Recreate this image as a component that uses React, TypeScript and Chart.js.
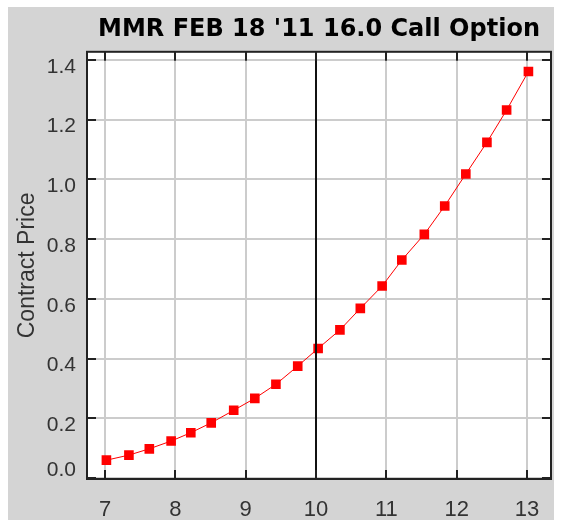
import React, { useEffect, useRef } from "react";
import { Chart, registerables } from "chart.js";

Chart.register(...registerables);

const chartTitle = "MMR FEB 18 '11 16.0 Call Option";
const yAxisTitle = "Contract Price";
const strikePrices = [7.02, 7.34, 7.63, 7.94, 8.22, 8.51, 8.83, 9.13, 9.43, 9.74, 10.03, 10.34, 10.63, 10.94, 11.22, 11.54, 11.83, 12.13, 12.43, 12.71, 13.02];
const contractPrices = [0.060, 0.077, 0.098, 0.124, 0.152, 0.185, 0.227, 0.267, 0.314, 0.375, 0.434, 0.496, 0.568, 0.643, 0.730, 0.816, 0.911, 1.018, 1.124, 1.232, 1.361];
const xTickValues = [7, 8, 9, 10, 11, 12, 13];
const yTickValues = [0, 0.2, 0.4, 0.6, 0.8, 1.0, 1.2, 1.4];
const currentPrice = 10;
const xRange = [6.744, 13.341];
const yRange = [-0.003, 1.427];

const tickFont = "21px 'Liberation Sans'";
const tickColor = "#333333";

const framePlugin = {
  id: "frame",
  beforeDraw(chart: any) {
    const { ctx, chartArea: a } = chart;
    ctx.save();
    ctx.fillStyle = "#ffffff";
    ctx.fillRect(a.left, a.top, a.right - a.left, a.bottom - a.top);
    ctx.restore();
  },
  afterDatasetsDraw(chart: any) {
    const { ctx, chartArea: a, scales } = chart;
    const xs = scales.x;
    const ys = scales.y;
    ctx.save();
    // current price marker line
    const cx = Math.round(xs.getPixelForValue(currentPrice));
    ctx.strokeStyle = "#111111";
    ctx.lineWidth = 2;
    ctx.beginPath();
    ctx.moveTo(cx, a.top);
    ctx.lineTo(cx, a.bottom);
    ctx.stroke();
    // inward tick marks
    const tl = 9;
    ctx.strokeStyle = "#222222";
    ctx.lineWidth = 2;
    ctx.beginPath();
    xTickValues.forEach((v) => {
      const px = Math.round(xs.getPixelForValue(v));
      ctx.moveTo(px, a.bottom);
      ctx.lineTo(px, a.bottom - tl);
      ctx.moveTo(px, a.top);
      ctx.lineTo(px, a.top + tl);
    });
    yTickValues.forEach((v) => {
      const py = Math.round(ys.getPixelForValue(v));
      ctx.moveTo(a.left, py);
      ctx.lineTo(a.left + tl, py);
      ctx.moveTo(a.right, py);
      ctx.lineTo(a.right - tl, py);
    });
    ctx.stroke();
    // frame
    ctx.strokeRect(a.left, a.top, a.right - a.left, a.bottom - a.top);
    // lowest y label sits just above the axis line
    ctx.font = tickFont;
    ctx.fillStyle = tickColor;
    ctx.textAlign = "right";
    ctx.textBaseline = "middle";
    ctx.fillText(yTickValues[0].toFixed(1), ys.right - 11, ys.getPixelForValue(yTickValues[0]) - 8);
    ctx.restore();
  },
};

export default function App() {
  const canvasRef = useRef<HTMLCanvasElement | null>(null);

  useEffect(() => {
    if (!canvasRef.current) return;
    const chart = new Chart(canvasRef.current, {
      type: "line",
      data: {
        datasets: [
          {
            data: strikePrices.map((x, i) => ({ x, y: contractPrices[i] })),
            borderColor: "#ff0000",
            backgroundColor: "#ff0000",
            borderWidth: 1,
            pointStyle: "rect",
            pointRadius: 6.8,
            pointBorderWidth: 0,
            pointBackgroundColor: "#ff0000",
            tension: 0,
            fill: false,
          },
        ],
      },
      options: {
        animation: false,
        responsive: true,
        maintainAspectRatio: false,
        layout: { autoPadding: false, padding: { left: 0, right: 3, top: 0, bottom: 0 } },
        plugins: {
          legend: { display: false },
          tooltip: { enabled: false },
          title: {
            display: true,
            text: chartTitle,
            fullSize: false,
            color: "#000000",
            font: { family: "'DejaVu Sans'", size: 24, weight: "bold" },
            padding: { top: 8, bottom: 8 },
          },
        },
        scales: {
          x: {
            type: "linear",
            min: xRange[0],
            max: xRange[1],
            afterBuildTicks: (s: any) => {
              s.ticks = xTickValues.map((v) => ({ value: v }));
            },
            afterFit: (s: any) => {
              s.height = 41;
              s.paddingLeft = 0;
              s.paddingRight = 0;
            },
            ticks: {
              color: tickColor,
              font: { family: "'Liberation Sans'", size: 22 },
              padding: 18,
              maxRotation: 0,
              autoSkip: false,
              callback: (v: any) => String(v),
            },
            grid: { color: "#cccccc", lineWidth: 2, drawTicks: false },
            border: { display: false },
          },
          y: {
            type: "linear",
            min: yRange[0],
            max: yRange[1],
            afterBuildTicks: (s: any) => {
              s.ticks = yTickValues.map((v) => ({ value: v }));
            },
            afterFit: (s: any) => {
              s.width = 79;
              s.paddingTop = 0;
              s.paddingBottom = 0;
            },
            ticks: {
              color: tickColor,
              font: { family: "'Liberation Sans'", size: 21 },
              padding: 11,
              labelOffset: 7,
              autoSkip: false,
              callback: (v: any) => (Number(v) === yTickValues[0] ? "" : Number(v).toFixed(1)),
            },
            grid: { color: "#cccccc", lineWidth: 2, drawTicks: false },
            border: { display: false },
            title: {
              display: true,
              text: yAxisTitle,
              color: tickColor,
              font: { family: "'Liberation Sans'", size: 23 },
              padding: { top: 6, bottom: 0 },
            },
          },
        },
      },
      plugins: [framePlugin],
    });
    return () => chart.destroy();
  }, []);

  return (
    <div
      style={{
        position: "fixed",
        left: 8,
        top: 7,
        width: 546,
        height: 513,
        background: "#d4d4d4",
      }}
    >
      <canvas ref={canvasRef} />
    </div>
  );
}
